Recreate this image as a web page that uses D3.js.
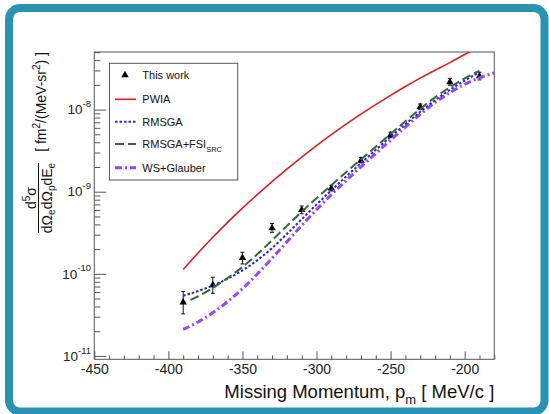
<!DOCTYPE html>
<html>
<head>
<meta charset="utf-8">
<script src="https://cdn.jsdelivr.net/npm/d3@7"></script>
<style>
  body { margin: 0; background: #fff; }
  svg { display: block; font-family: "Liberation Sans", Arial, Helvetica, sans-serif; }
</style>
</head>
<body>
<div id="chart"></div>
<script>
// measured cross sections (This work)
const pmData = [-390, -370, -350, -330, -310, -290, -270, -250, -230, -210, -190];
const xsec   = [4.5e-11, 7.3e-11, 1.57e-10, 3.6e-10, 6.0e-10, 1.1e-9, 2.4e-9, 4.9e-9, 1.08e-8, 2.17e-8, 2.55e-8];
const xsecLo = [3.25e-11, 5.8e-11, 1.32e-10, 3.2e-10, 5.4e-10, 1.02e-9, 2.25e-9, 4.55e-9, 1.0e-8, 1.98e-8, 2.3e-8];
const xsecHi = [6.1e-11, 9.1e-11, 1.83e-10, 4.1e-10, 6.7e-10, 1.2e-9, 2.6e-9, 5.3e-9, 1.17e-8, 2.4e-8, 2.85e-8];

// theory curves
const pmPWIA = [-390, -380, -370, -360, -350, -340, -330, -320, -310, -300, -290, -280, -270, -260, -250, -240, -230, -220, -210, -200, -190];
const pwia   = [1.13e-10, 1.79e-10, 2.79e-10, 4.24e-10, 6.31e-10, 9.23e-10, 1.33e-9, 1.88e-9, 2.64e-9, 3.64e-9, 4.95e-9, 6.65e-9, 8.81e-9, 1.15e-8, 1.49e-8, 1.91e-8, 2.42e-8, 3.02e-8, 3.73e-8, 4.68e-8, 5.75e-8];

const pmRMSGA = [-390, -380, -370, -360, -350, -340, -330, -320, -310, -300, -290, -280, -270, -260, -250, -240, -230, -220, -210, -200, -190];
const rmsga   = [5.4e-11, 6.17e-11, 7.21e-11, 8.71e-11, 1.10e-10, 1.46e-10, 2.06e-10, 3.06e-10, 4.63e-10, 6.98e-10, 1.04e-9, 1.53e-9, 2.23e-9, 3.24e-9, 4.67e-9, 6.65e-9, 9.38e-9, 1.30e-8, 1.74e-8, 2.26e-8, 2.84e-8];

const pmFSI = [-385, -380, -370, -360, -350, -340, -330, -320, -310, -300, -290, -280, -270, -260, -250, -240, -230, -220, -210, -200, -190];
const rmsgaFSI = [4.8e-11, 5.3e-11, 6.75e-11, 8.89e-11, 1.21e-10, 1.73e-10, 2.56e-10, 3.84e-10, 5.7e-10, 8.34e-10, 1.2e-9, 1.73e-9, 2.47e-9, 3.53e-9, 5.05e-9, 7.21e-9, 1.02e-8, 1.41e-8, 1.87e-8, 2.4e-8, 2.97e-8];

const pmWS = [-390, -380, -370, -360, -350, -340, -330, -320, -310, -300, -290, -280, -270, -260, -250, -240, -230, -220, -210, -200, -190, -180];
const wsGlauber = [2.1e-11, 2.59e-11, 3.36e-11, 4.58e-11, 6.59e-11, 9.93e-11, 1.55e-10, 2.45e-10, 3.88e-10, 6.05e-10, 9.23e-10, 1.37e-9, 2.01e-9, 2.93e-9, 4.25e-9, 6.14e-9, 8.77e-9, 1.22e-8, 1.61e-8, 2.03e-8, 2.44e-8, 2.8e-8];

const xMajor = [-450, -400, -350, -300, -250, -200];
const yMajor = [1e-11, 1e-10, 1e-9, 1e-8];
const yExp = ['-11', '-10', '-9', '-8'];

const width = 549, height = 414;
const svg = d3.select('#chart').append('svg')
  .attr('width', width)
  .attr('height', height);

// teal bezel
svg.append('rect')
  .attr('x', 9).attr('y', 8)
  .attr('width', 535.5).attr('height', 403.5)
  .attr('rx', 11)
  .attr('fill', '#fff')
  .attr('stroke', '#2a93b1')
  .attr('stroke-width', 8);

const pLeft = 94.3, pRight = 494.3, pTop = 52, pBottom = 359.3;
const x = d3.scaleLinear().domain([-450, -180]).range([pLeft, pRight]);
const y = d3.scaleLog().domain([9.1e-12, 5.03e-8]).range([pBottom, pTop]);

const axisColor = '#555';

// x ticks
const xMinor = d3.range(-450, -179, 10).filter(v => !xMajor.includes(v));
const gx = svg.append('g').attr('transform', `translate(0,${pBottom})`);
gx.call(d3.axisBottom(x).tickValues(xMajor).tickSize(-8).tickPadding(4.3).tickFormat(d => String(d)));
const gxm = svg.append('g').attr('transform', `translate(0,${pBottom})`);
gxm.call(d3.axisBottom(x).tickValues(xMinor).tickSize(-4).tickFormat(''));
[gx, gxm].forEach(g => {
  g.select('.domain').remove();
  g.selectAll('line').attr('stroke', axisColor);
});
gx.selectAll('text').attr('fill', '#222').style('font-size', '14px');

// y ticks
const yMinor = [];
[1e-12, 1e-11, 1e-10, 1e-9, 1e-8].forEach(dec => {
  for (let k = 2; k <= 9; k++) {
    const v = k * dec;
    if (v >= 9.1e-12 && v <= 5.03e-8) yMinor.push(v);
  }
});
const gy = svg.append('g').attr('transform', `translate(${pLeft},0)`);
gy.call(d3.axisLeft(y).tickValues(yMajor).tickSize(-12).tickPadding(3.3).tickFormat(''));
const gym = svg.append('g').attr('transform', `translate(${pLeft},0)`);
gym.call(d3.axisLeft(y).tickValues(yMinor).tickSize(-6).tickFormat(''));
[gy, gym].forEach(g => {
  g.select('.domain').remove();
  g.selectAll('line').attr('stroke', axisColor);
});
gy.selectAll('.tick text').each(function(d, i) {
  const t = d3.select(this).attr('fill', '#222').attr('dy', '0.42em');
  t.append('tspan').style('font-size', '13.5px').text('10');
  t.append('tspan').style('font-size', '9.5px').attr('dy', '-0.75em').text(yExp[i]);
});

// frame
svg.append('rect')
  .attr('x', pLeft).attr('y', pTop)
  .attr('width', pRight - pLeft).attr('height', pBottom - pTop)
  .attr('fill', 'none')
  .attr('stroke', axisColor)
  .attr('stroke-width', 1);

svg.append('clipPath').attr('id', 'plotClip')
  .append('rect')
  .attr('x', pLeft).attr('y', pTop)
  .attr('width', pRight - pLeft).attr('height', pBottom - pTop);

const plot = svg.append('g').attr('clip-path', 'url(#plotClip)');

// data points with error bars
const pts = plot.selectAll('g.pt')
  .data(pmData.map((p, i) => ({p, v: xsec[i], lo: xsecLo[i], hi: xsecHi[i]})))
  .enter().append('g').attr('class', 'pt');
pts.append('line')
  .attr('x1', d => x(d.p)).attr('x2', d => x(d.p))
  .attr('y1', d => y(d.lo)).attr('y2', d => y(d.hi))
  .attr('stroke', '#111').attr('stroke-width', 1);
['lo', 'hi'].forEach(k => {
  pts.append('line')
    .attr('x1', d => x(d.p) - 2).attr('x2', d => x(d.p) + 2)
    .attr('y1', d => y(d[k])).attr('y2', d => y(d[k]))
    .attr('stroke', '#111').attr('stroke-width', 1);
});
const tri = d3.symbol(d3.symbolTriangle).size(24);
pts.append('path')
  .attr('d', tri)
  .attr('transform', d => `translate(${x(d.p)},${y(d.v)})`)
  .attr('fill', '#000');

// theory curves
const line = d3.line().x(d => x(d[0])).y(d => y(d[1])).curve(d3.curveMonotoneX);
const curves = [
  {pm: pmPWIA, v: pwia, color: '#dc1f1f', w: 1.6, dash: null},
  {pm: pmWS, v: wsGlauber, color: '#9b45fa', w: 3, dash: '7,3,2,3'},
  {pm: pmRMSGA, v: rmsga, color: '#2323e6', w: 2, dash: '2.5,2'},
  {pm: pmFSI, v: rmsgaFSI, color: '#2f6b2f', w: 2, dash: '9,4'}
];
curves.forEach(c => {
  plot.append('path')
    .datum(c.pm.map((p, i) => [p, c.v[i]]))
    .attr('d', line)
    .attr('fill', 'none')
    .attr('stroke', c.color)
    .attr('stroke-width', c.w)
    .attr('stroke-dasharray', c.dash);
});

// legend
svg.append('rect')
  .attr('x', 109.5).attr('y', 63.3)
  .attr('width', 128.2).attr('height', 116.7)
  .attr('fill', '#fff')
  .attr('stroke', axisColor)
  .attr('stroke-width', 1);

const legendRows = [
  {label: 'This work', y: 75},
  {label: 'PWIA', y: 99.3, color: '#dc1f1f', w: 1.6, dash: null},
  {label: 'RMSGA', y: 121.7, color: '#2323e6', w: 2, dash: '2.5,2'},
  {label: 'RMSGA+FSI', sub: 'SRC', y: 144, color: '#2f6b2f', w: 2, dash: '9,4'},
  {label: 'WS+Glauber', y: 167.7, color: '#9b45fa', w: 3, dash: '7,3,2,3'}
];
legendRows.forEach((r, i) => {
  if (i === 0) {
    svg.append('path').attr('d', tri).attr('transform', `translate(125,${r.y})`).attr('fill', '#000');
  } else {
    svg.append('line')
      .attr('x1', 115).attr('x2', 136)
      .attr('y1', r.y).attr('y2', r.y)
      .attr('stroke', r.color).attr('stroke-width', r.w)
      .attr('stroke-dasharray', r.dash);
  }
  const t = svg.append('text')
    .attr('x', 142.3).attr('y', r.y + 4)
    .attr('fill', '#111')
    .style('font-size', '11px');
  t.append('tspan').text(r.label);
  if (r.sub) t.append('tspan').attr('dy', 4).style('font-size', '7.5px').text(r.sub);
});

// x title
const xt = svg.append('text')
  .attr('x', pRight).attr('y', 398)
  .attr('text-anchor', 'end')
  .attr('fill', '#111')
  .style('font-size', '18.5px');
xt.append('tspan').text('Missing Momentum, p');
xt.append('tspan').attr('dy', 6).style('font-size', '13px').text('m');
xt.append('tspan').attr('dy', -6).text(' [ MeV/c ]');

// y title (rotated)
const yt = svg.append('g').attr('transform', 'rotate(-90)').attr('fill', '#111');
const num = yt.append('text').attr('x', -198).attr('y', 35.5)
  .attr('text-anchor', 'middle').style('font-size', '14px');
num.append('tspan').text('d');
num.append('tspan').attr('dy', -6).style('font-size', '10px').text('5');
num.append('tspan').attr('dy', 6).text('σ');
yt.append('line')
  .attr('x1', -233).attr('x2', -163)
  .attr('y1', 38.5).attr('y2', 38.5)
  .attr('stroke', '#111').attr('stroke-width', 1);
const den = yt.append('text').attr('x', -198).attr('y', 51.5)
  .attr('text-anchor', 'middle').style('font-size', '14px');
den.append('tspan').text('dΩ');
den.append('tspan').attr('dy', 3.5).style('font-size', '10px').text('e');
den.append('tspan').attr('dy', -3.5).text('dΩ');
den.append('tspan').attr('dy', 3.5).style('font-size', '10px').text('p');
den.append('tspan').attr('dy', -3.5).text('dE');
den.append('tspan').attr('dy', 3.5).style('font-size', '10px').text('e');
const unit = yt.append('text').attr('x', -52).attr('y', 46)
  .attr('text-anchor', 'end').style('font-size', '14px');
unit.append('tspan').text('[ fm');
unit.append('tspan').attr('dy', -6).style('font-size', '10px').text('2');
unit.append('tspan').attr('dy', 6).text('/(MeV-sr');
unit.append('tspan').attr('dy', -6).style('font-size', '10px').text('2');
unit.append('tspan').attr('dy', 6).text(') ]');
</script>
</body>
</html>
